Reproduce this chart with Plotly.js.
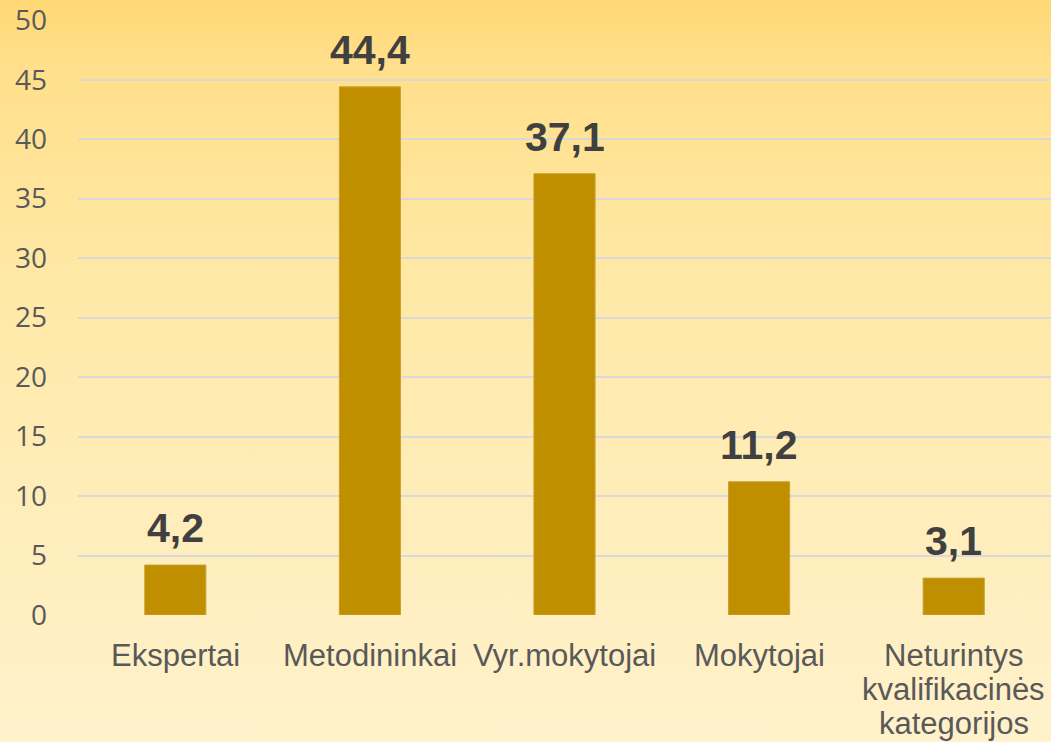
<!DOCTYPE html>
<html>
<head>
<meta charset="utf-8">
<script src="https://cdn.plot.ly/plotly-3.0.1.min.js"></script>
<style>
html, body { margin:0; padding:0; width:1051px; height:742px; overflow:hidden;
  background: linear-gradient(to bottom, #FFD874 0%, #FFDF8A 8%, #FFE8A4 36%, #FFEDB8 65%, #FFF1CB 100%); }
#chart { width:1051px; height:742px; }
</style>
</head>
<body>
<div id="chart"></div>
<script>
const categories = ["Ekspertai", "Metodininkai", "Vyr.mokytojai", "Mokytojai", "Neturintys<br>kvalifikacinės<br>kategorijos"];
const values = [4.2, 44.4, 37.1, 11.2, 3.1];
const yTicks = [0, 5, 10, 15, 20, 25, 30, 35, 40, 45, 50];

const labels = values.map(v => v.toFixed(1).replace('.', ','));

const trace = {
  type: 'bar',
  x: categories,
  y: values,
  marker: { color: '#BF8F00', line: { color: '#C9A030', width: 1 } },
  hoverinfo: 'none'
};

const valueAnnotations = categories.map((c, i) => ({
  x: c, y: values[i], xref: 'x', yref: 'y',
  text: labels[i], showarrow: false,
  xanchor: 'center', yanchor: 'bottom', yshift: 12,
  font: { family: 'Liberation Sans, Arial, sans-serif', size: 41, color: '#404040', weight: 'bold' }
}));

const categoryAnnotations = [];
categories.forEach(c => {
  c.split('<br>').forEach((line, k) => {
    categoryAnnotations.push({
      x: c, y: 0, xref: 'x', yref: 'y',
      text: line, showarrow: false,
      xanchor: 'center', yanchor: 'middle', yshift: -40 - 34 * k,
      font: { family: 'Liberation Sans, Arial, sans-serif', size: 31, color: '#595959' }
    });
  });
});

const layout = {
  width: 1051, height: 742,
  paper_bgcolor: 'rgba(0,0,0,0)',
  plot_bgcolor: 'rgba(0,0,0,0)',
  margin: { l: 78, r: 0, t: 20, b: 127 },
  bargap: 0.686,
  showlegend: false,
  annotations: valueAnnotations.concat(categoryAnnotations),
  xaxis: {
    type: 'category',
    showgrid: false, zeroline: false, showline: false,
    ticks: '', showticklabels: false
  },
  yaxis: {
    range: [0, 50.02],
    tickvals: yTicks,
    ticktext: yTicks.map(String),
    showgrid: true, gridcolor: '#D9D9D9', gridwidth: 2,
    zeroline: false, showline: false, ticks: '',
    ticklabelstandoff: 30,
    tickfont: { family: 'Open Sans, sans-serif', size: 28, color: '#595959' }
  }
};

Plotly.newPlot('chart', [trace], layout, { staticPlot: true, displayModeBar: false });
</script>
</body>
</html>
